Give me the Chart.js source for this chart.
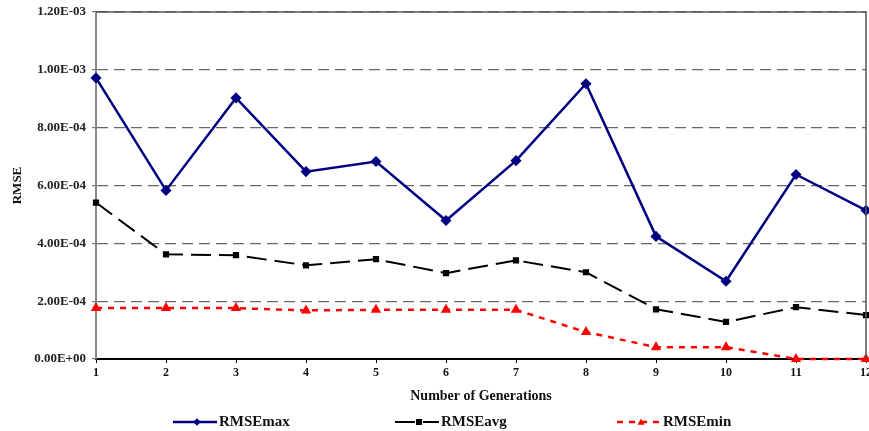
<!DOCTYPE html>
<html>
<head>
<meta charset="utf-8">
<script src="https://cdn.jsdelivr.net/npm/chart.js@4"></script>
<style>
    html, body { margin: 0; padding: 0; background: #fff; }
    #wrap { width: 869px; height: 431px; }
</style>
</head>
<body>
<div id="wrap"><canvas id="rmseChart" width="869" height="431"></canvas></div>
<script>
// generations on the x axis
const generations = ['1', '2', '3', '4', '5', '6', '7', '8', '9', '10', '11', '12'];
// RMSE per generation
const rmseMax = [9.72e-4, 5.83e-4, 9.03e-4, 6.48e-4, 6.83e-4, 4.79e-4, 6.86e-4, 9.52e-4, 4.24e-4, 2.69e-4, 6.38e-4, 5.14e-4];
const rmseAvg = [5.41e-4, 3.62e-4, 3.59e-4, 3.24e-4, 3.45e-4, 2.97e-4, 3.41e-4, 3.00e-4, 1.72e-4, 1.28e-4, 1.79e-4, 1.52e-4];
const rmseMin = [1.76e-4, 1.76e-4, 1.76e-4, 1.68e-4, 1.70e-4, 1.70e-4, 1.70e-4, 0.93e-4, 0.41e-4, 0.41e-4, 0.00e-4, 0.00e-4];
const seriesNames = ['RMSEmax', 'RMSEavg', 'RMSEmin'];
const yMax = 1.2e-3;
const yStep = 2e-4;

const serif = "'Liberation Serif', 'DejaVu Serif', serif";

// 1.20E-03 style labels
function sci(v) {
    if (Math.abs(v) < 1e-12) return '0.00E+00';
    let e = Math.floor(Math.log10(Math.abs(v)) + 1e-9);
    let m = v / Math.pow(10, e);
    let sign = e < 0 ? '-' : '+';
    let ee = String(Math.abs(e)).padStart(2, '0');
    return m.toFixed(2) + 'E' + sign + ee;
}

// top / right frame of the plot area
const frame = {
    id: 'frame',
    afterDatasetsDraw(chart) {
        const a = chart.chartArea, ctx = chart.ctx;
        ctx.save();
        ctx.strokeStyle = '#555';
        ctx.lineWidth = 1.5;
        ctx.beginPath();
        ctx.moveTo(a.left, a.top);
        ctx.lineTo(a.right, a.top);
        ctx.lineTo(a.right, a.bottom);
        ctx.stroke();
        ctx.restore();
    }
};

function drawMarker(ctx, style, x, y, r) {
    ctx.beginPath();
    if (style === 'rectRot') {
        ctx.moveTo(x, y - r); ctx.lineTo(x + r, y); ctx.lineTo(x, y + r); ctx.lineTo(x - r, y);
    } else if (style === 'rect') {
        ctx.rect(x - r, y - r, 2 * r, 2 * r);
    } else {
        ctx.moveTo(x, y - r); ctx.lineTo(x + r, y + r * 0.8); ctx.lineTo(x - r, y + r * 0.8);
    }
    ctx.closePath();
    ctx.fill();
}

// legend row under the axis title
const lineLegend = {
    id: 'lineLegend',
    afterDraw(chart) {
        const ctx = chart.ctx;
        const y = 422;
        ctx.save();
        chart.data.datasets.forEach(function (ds, i) {
            let x0 = chart.chartArea.left + 77 + i * 222;
            ctx.strokeStyle = ds.borderColor;
            ctx.fillStyle = ds.borderColor;
            ctx.lineWidth = ds.borderWidth;
            ctx.setLineDash(ds.borderDash || []);
            ctx.beginPath();
            ctx.moveTo(x0, y);
            ctx.lineTo(x0 + 44, y);
            ctx.stroke();
            ctx.setLineDash([]);
            drawMarker(ctx, ds.pointStyle, x0 + 24, y, ds.pointRadius);
            ctx.fillStyle = '#111';
            ctx.font = "bold 15px " + serif;
            ctx.textBaseline = 'middle';
            ctx.fillText(ds.label, x0 + 46, y);
        });
        ctx.restore();
    }
};

new Chart(document.getElementById('rmseChart').getContext('2d'), {
    type: 'line',
    data: {
        labels: generations,
        datasets: [
            {
                label: seriesNames[0], data: rmseMax,
                borderColor: '#000080', backgroundColor: '#000080',
                borderWidth: 2.5, pointStyle: 'rectRot', pointRadius: 3.8,
                tension: 0, clip: false
            },
            {
                label: seriesNames[1], data: rmseAvg,
                borderColor: '#000000', backgroundColor: '#000000',
                borderWidth: 2, borderDash: [20, 8], pointStyle: 'rect', pointRadius: 3,
                tension: 0, clip: false
            },
            {
                label: seriesNames[2], data: rmseMin,
                borderColor: '#ff0000', backgroundColor: '#ff0000',
                borderWidth: 2.5, borderDash: [6, 6], pointStyle: 'triangle', pointRadius: 3.5,
                tension: 0, clip: false
            }
        ]
    },
    options: {
        responsive: false,
        animation: false,
        layout: { autoPadding: false, padding: { top: 12, right: 3, left: 0, bottom: 0 } },
        plugins: {
            legend: { display: false },
            tooltip: { enabled: false }
        },
        scales: {
            x: {
                type: 'category',
                offset: false,
                afterFit: function (s) { s.height = 72; s.paddingLeft = 0; s.paddingRight = 0; },
                grid: { display: true, drawOnChartArea: false, tickLength: 4, tickColor: '#000', lineWidth: 1 },
                border: { color: '#000', width: 2 },
                ticks: { color: '#111', padding: 3, maxRotation: 0, font: { family: serif, size: 12, weight: 'bold' } },
                title: {
                    display: true, text: 'Number of Generations', color: '#111',
                    font: { family: serif, size: 14, weight: 'bold' },
                    padding: { top: 0, bottom: 26 }
                }
            },
            y: {
                min: 0, max: yMax,
                afterFit: function (s) { s.width = 96; s.paddingTop = 0; s.paddingBottom = 0; },
                grid: {
                    color: '#666', lineWidth: 1.2, tickLength: 4, tickColor: '#777',
                    tickBorderDash: []
                },
                border: { color: '#888', width: 2, dash: [11, 6] },
                ticks: {
                    stepSize: yStep, padding: 6, color: '#222',
                    font: { family: serif, size: 13, weight: 'bold' },
                    callback: function (v) { return sci(v); }
                },
                title: {
                    display: true, text: 'RMSE', color: '#111',
                    font: { family: serif, size: 13, weight: 'bold' },
                    padding: { top: 10, bottom: 0 }
                }
            }
        }
    },
    plugins: [frame, lineLegend]
});
</script>
</body>
</html>
